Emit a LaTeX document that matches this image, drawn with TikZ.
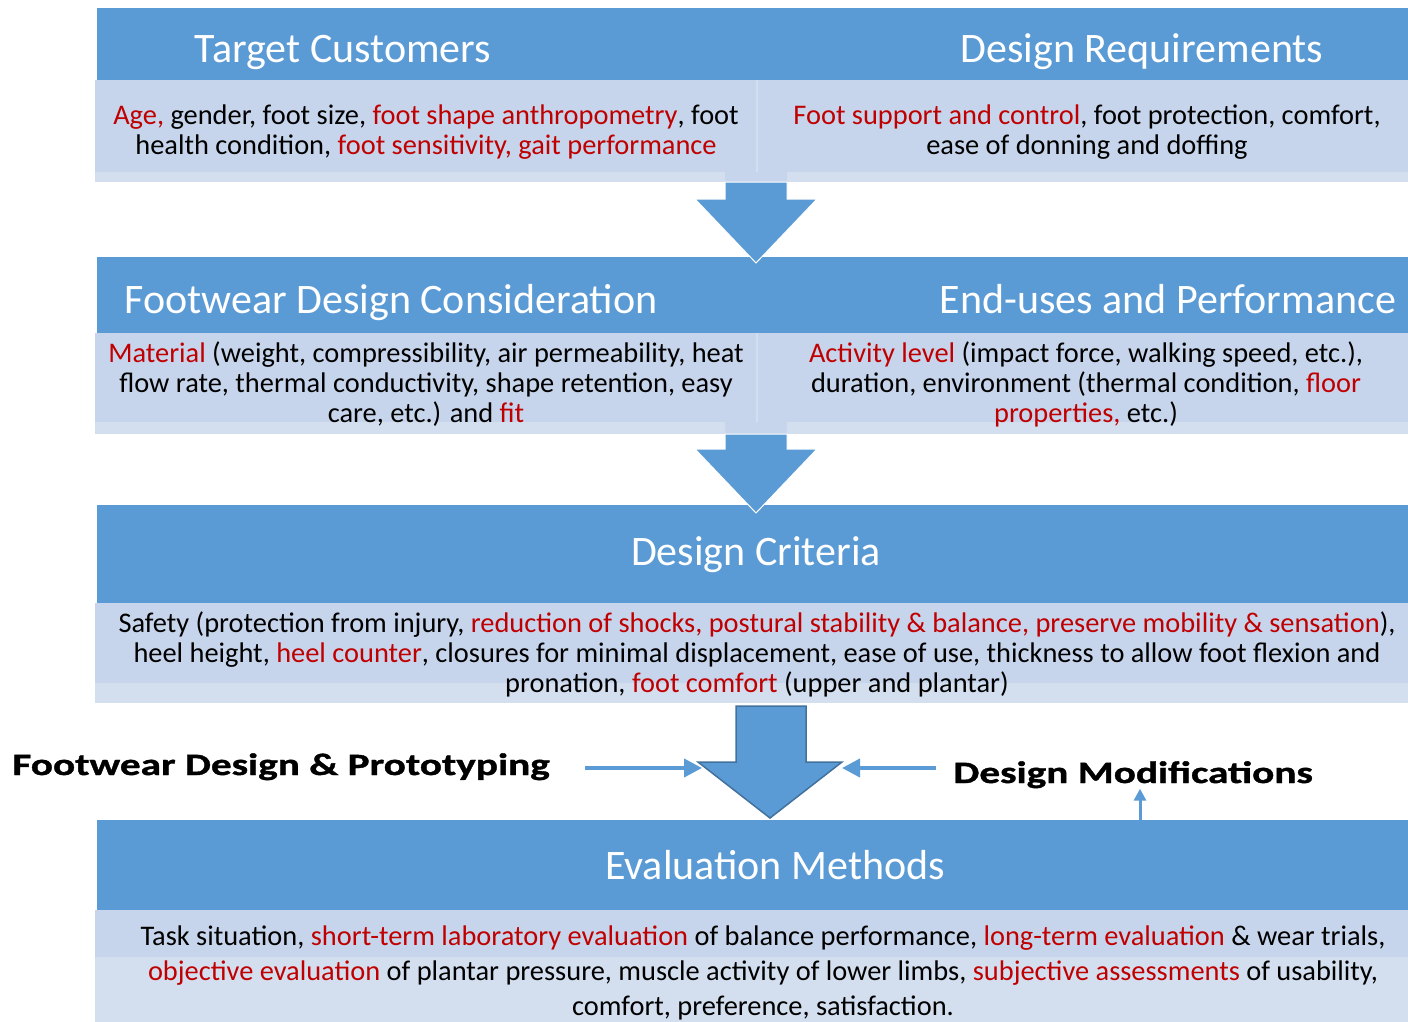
\documentclass[tikz,border=0pt]{standalone}
\usepackage{fontspec}
\setmainfont{Carlito}
\newfontfamily\lblfont{Carlito}[FakeStretch=1.33,FakeBold=1.2]
\usepackage{xcolor}
\usepackage{tikz}
\usetikzlibrary{arrows.meta,positioning}
\definecolor{headc}{HTML}{5B9BD5}
\definecolor{bodyc}{HTML}{C6D5EB}
\definecolor{stripc}{HTML}{D3DFEF}
\definecolor{hotc}{HTML}{C00000}
\definecolor{edgec}{HTML}{41719C}
\newcommand{\hot}[1]{\textcolor{hotc}{#1}}
\tikzset{
  ttl/.style={anchor=base,text=white,font=\fontsize{21}{25}\selectfont,inner sep=0pt},
  txt/.style={anchor=base,align=center,font=\fontsize{14.2}{15}\selectfont,inner sep=0pt},
  lbl/.style={anchor=base west,font=\lblfont\bfseries\fontsize{15.5}{18}\selectfont,inner sep=0pt},
  blk/.style={fill=headc,draw=white,line width=0.5pt,line join=miter},
  ar/.style={-{Triangle[length=9pt,width=9pt]},line width=2pt,headc},
  upar/.style={-{Triangle[length=6pt,width=6pt]},line width=1.5pt,headc}
}

\begin{document}
\begin{tikzpicture}[x=0.5pt,y=-0.5pt]
\useasboundingbox (0,0) rectangle (1408,1022);
% bands: header top / header bottom / body bottom / strip bottom
\foreach \t/\m/\s/\b in {8/80/172/182,257/333/422/434,505/603/683/703,820/910/957/1022}{
  \fill[headc] (97,\t) rectangle (1408,\m);
  \fill[stripc] (95,\m) rectangle (1408,\b);
  \fill[bodyc] (95,\m) rectangle (1408,\s);
}
\foreach \m/\b in {80/182,333/434}{\fill[stripc] (756,\m) rectangle (758,\b);}
% block arrows between the bands
\fill[bodyc] (725,172) rectangle (787,182); \fill[bodyc] (725,422) rectangle (787,434);
\draw[blk] (725,182)--(787,182)--(787,199)--(817,199)--(756,263)--(695,199)--(725,199)--cycle;
\draw[blk] (725,434)--(787,434)--(787,449)--(817,449)--(756,513)--(695,449)--(725,449)--cycle;
\draw[blk,draw=edgec,line width=0.75pt] (736,706)--(806,706)--(806,762)--(842,762)--(770,818)--(698,762)--(736,762)--cycle;
\coordinate (hl) at (702,768); \coordinate (hr) at (842,768); \coordinate (up) at (1140,820);

% multi-line texts sit on the baseline of their last line
\node[ttl] (tc) at (343,63) {Target Customers};
\node[ttl] (dr) at (1142,63) {Design Requirements};
\node[txt] (tcT) at (426,155) {\hot{Age,} gender, foot size, \hot{foot shape anthropometry}, foot\\ health condition, \hot{foot sensitivity, gait performance}};
\node[txt] (drT) at (1087,155) {\hot{Foot support and control}, foot protection, comfort,\\ ease of donning and doffing};

\node[ttl] (fd) at (391,313) {Footwear Design Consideration};
\node[ttl] (eu) at (1168,313) {End-uses and Performance};
\node[txt] (fdT) at (426,422) {\hot{Material} (weight, compressibility, air permeability, heat\\ flow rate, thermal conductivity, shape retention, easy\\ care, etc.) and \hot{fit}};
\node[txt] (euT) at (1086,422) {\hot{Activity level} (impact force, walking speed, etc.),\\ duration, environment (thermal condition, \hot{floor}\\ \hot{properties,} etc.)};

\node[ttl] (dc) at (756,565) {Design Criteria};
\node[txt] (dcT) at (757,692) {Safety (protection from injury, \hot{reduction of shocks, postural stability \& balance, preserve mobility \& sensation}),\\ heel height, \hot{heel counter}, closures for minimal displacement, ease of use, thickness to allow foot flexion and\\ pronation, \hot{foot comfort} (upper and plantar)};

\node[lbl] (proto) at (12,775) {Footwear Design \& Prototyping};
\node[lbl] (modif) at (953,783) {Design Modifications};

\node[ttl] (em) at (775,879) {Evaluation Methods};
\node[txt,font=\fontsize{14.2}{17.5}\selectfont] (emT) at (763,1015) {Task situation, \hot{short-term laboratory evaluation} of balance performance, \hot{long-term evaluation} \& wear trials,\\ \hot{objective evaluation} of plantar pressure, muscle activity of lower limbs, \hot{subjective assessments} of usability,\\ comfort, preference, satisfaction.};

\draw[ar,shorten <=17.5pt] (proto.east |- hl) -- (hl);
\draw[ar,shorten <=8.5pt] (modif.west |- hr) -- (hr);
\draw[upar] (up) -- (up |- modif.south);
\end{tikzpicture}
\end{document}
